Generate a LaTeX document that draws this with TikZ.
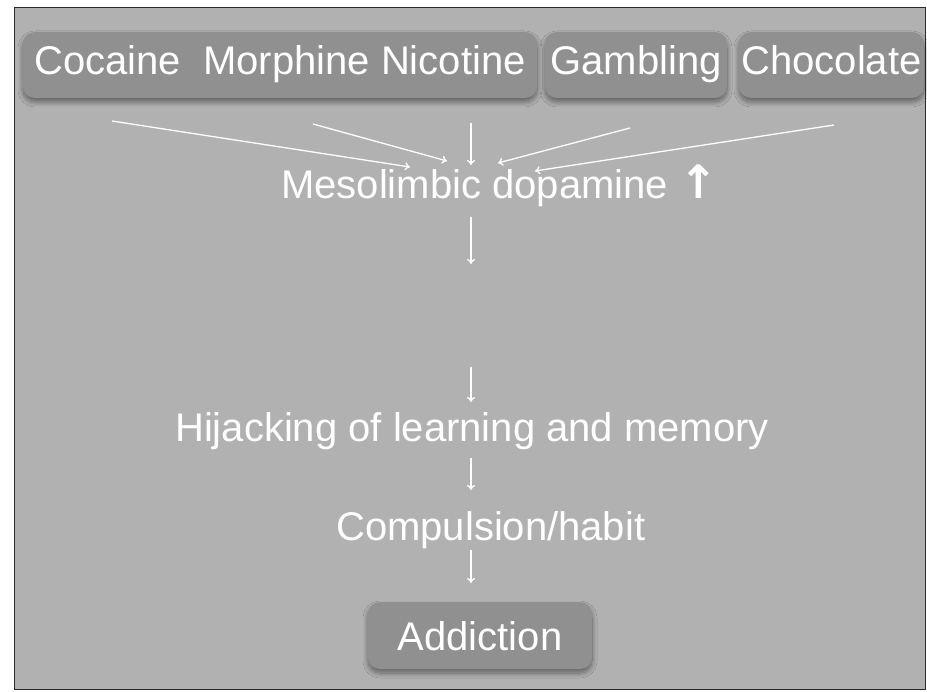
\documentclass[tikz,border=0pt]{standalone}
\usepackage{fontspec}
\setmainfont{Liberation Sans}
\newfontfamily\arrowfont{DejaVu Sans}
\usetikzlibrary{arrows.meta,shadows.blur}
\definecolor{bggray}{HTML}{B1B1B1}
\definecolor{boxgray}{HTML}{909090}
\definecolor{framec}{HTML}{2A2A2A}
\tikzset{
  pill/.style={draw=none, fill=boxgray, rounded corners=12pt, inner sep=0pt,
    text=white, font=\fontsize{40}{48}\selectfont,
    blur shadow={shadow xshift=0pt, shadow yshift=-4pt, shadow blur radius=5pt, shadow blur steps=10, shadow opacity=45}},
  lbl/.style={inner sep=0pt, text=white, font=\fontsize{40}{48}\selectfont, anchor=base west},
  flow/.style={draw=white, line width=1.3pt, -{To[length=5pt,width=8pt]}}
}
\begin{document}
\begin{tikzpicture}[x=1pt,y=-1pt]
\useasboundingbox (0,0) rectangle (927,692);
\fill[white] (0,0) rectangle (927,692);
\fill[bggray] (14,7) rectangle (925.5,690);
\draw[framec, line width=1.6pt] (14.5,7.5) rectangle (925.5,689.5);

% top boxes
\node[pill, minimum width=514pt, minimum height=66pt, text height=28pt, text depth=8pt] (drugs) at (280,65) {Cocaine\ \ Morphine Nicotine};
\node[pill, minimum width=182pt, minimum height=66pt, text height=28pt, text depth=8pt] (gamb) at (636,65) {Gambling};
\node[pill, minimum width=185pt, minimum height=66pt, text height=28pt, text depth=8pt] (choc) at (831.5,65) {Chocolate};

% text nodes
\node[lbl] (dopa) at (281,199) {Mesolimbic dopamine {\arrowfont\bfseries\fontsize{46}{48}\selectfont ↑}};
\node[lbl] (hij) at (175,442) {Hijacking of learning and memory};
\node[lbl] (comp) at (336,540) {Compulsion/habit};
\node[pill, minimum width=224pt, minimum height=67pt, text height=31pt, text depth=2pt] (addi) at (480,635.5) {Addiction};

% arrow coordinates
\coordinate (s1) at (112,121); \coordinate (e1) at (410,167);
\coordinate (s2) at (313,124); \coordinate (e2) at (447,161);
\coordinate (s3) at (471,123); \coordinate (e3) at (471,165);
\coordinate (s4) at (630,128); \coordinate (e4) at (498,163);
\coordinate (s5) at (834,125); \coordinate (e5) at (535,171);
\coordinate (s6) at (471,217); \coordinate (e6) at (471,264);
\coordinate (s7) at (471,367); \coordinate (e7) at (471,402);
\coordinate (s8) at (471,458); \coordinate (e8) at (471,490);
\coordinate (s9) at (471,550); \coordinate (e9) at (471,583);

\draw[flow] (s1) -- (e1);
\draw[flow] (s2) -- (e2);
\draw[flow] (s3) -- (e3);
\draw[flow] (s4) -- (e4);
\draw[flow] (s5) -- (e5);
\draw[flow] (s6) -- (e6);
\draw[flow] (s7) -- (e7);
\draw[flow] (s8) -- (e8);
\draw[flow] (s9) -- (e9);
\end{tikzpicture}
\end{document}
